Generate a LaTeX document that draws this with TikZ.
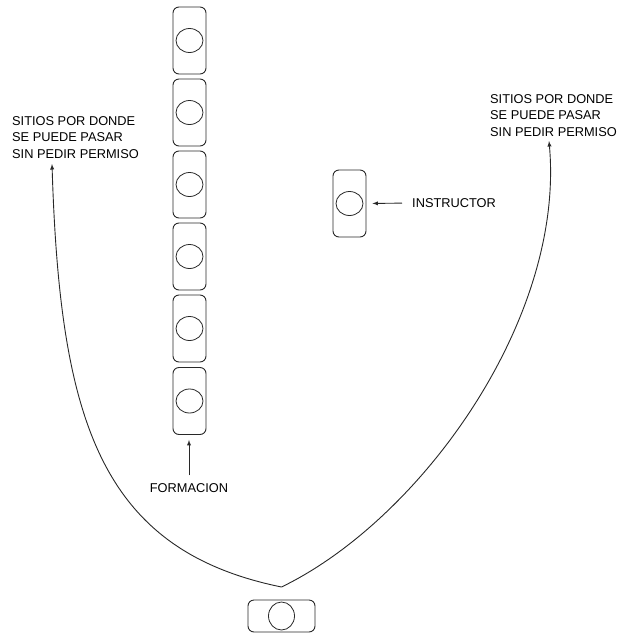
\documentclass[tikz,border=0pt]{standalone}
\usepackage{fontspec}
\setmainfont{Liberation Sans}
\usepackage{tikz}
\usetikzlibrary{arrows}
\definecolor{trazo}{RGB}{40, 40, 40}
\tikzset{
  soldado/.style={draw=trazo, line width=0.9pt, rounded corners=6pt,
                  minimum width=33pt, minimum height=67pt, inner sep=0pt},
  soldadoH/.style={soldado, minimum width=67pt, minimum height=32pt},
  cabeza/.style={draw=trazo, line width=0.8pt},
  rotulo/.style={font=\fontsize{12.8}{16.5}\selectfont, inner sep=0pt, align=left},
  flecha/.style={-latex, draw=trazo, line width=0.9pt}
}
\begin{document}
\begin{tikzpicture}[x=1pt, y=-1pt]
            \useasboundingbox (0,0) rectangle (619,633);
            % formacion
            \node[soldado]  (f1)    at (189.5,  40.5) {};
            \node[soldado]  (f2)    at (189.5, 112.5) {};
            \node[soldado]  (f3)    at (189.5, 184.5) {};
            \node[soldado]  (f4)    at (189.5, 256.5) {};
            \node[soldado]  (f5)    at (189.5, 328.5) {};
            \node[soldado]  (f6)    at (189.5, 401.0) {};
            \node[soldado]  (instr) at (349.5, 203.5) {};
            \node[soldadoH] (nuevo) at (281.5, 616.0) {};
            \draw[cabeza] (f1.center)    ellipse (13.5 and 12);
            \draw[cabeza] (f2.center)    ellipse (13.5 and 12);
            \draw[cabeza] (f3.center)    ellipse (13.5 and 12);
            \draw[cabeza] (f4.center)    ellipse (13.5 and 12);
            \draw[cabeza] (f5.center)    ellipse (13.5 and 12);
            \draw[cabeza] (f6.center)    ellipse (13.5 and 12);
            \draw[cabeza] (instr.center) ellipse (13.5 and 12);
            \draw[cabeza] (nuevo.center) ellipse (13   and 14);
            % rotulos
            \node[rotulo, anchor=north west] (sitiosIzq)  at ( 12, 116) {SITIOS POR DONDE\\SE PUEDE PASAR\\SIN PEDIR PERMISO};
            \node[rotulo, anchor=north west] (sitiosDer)  at (490,  94) {SITIOS POR DONDE\\SE PUEDE PASAR\\SIN PEDIR PERMISO};
            \node[rotulo, anchor=west]       (instructor) at (412, 203) {INSTRUCTOR};
            \node[rotulo]                    (formacion)  at (189, 488) {FORMACION};
            \coordinate (vertice)  at (281.5, 587);
            \coordinate (puntaIzq) at ( 52.0, 164);
            \coordinate (puntaDer) at (549.0, 141);
            % flechas
            \draw[flecha, shorten <=10pt, shorten >=6pt] (instructor.west) -- (instr.east);
            \draw[flecha, shorten <=8pt,  shorten >=5pt] (formacion.north) -- (formacion.north |- f6.south);
            \draw[flecha] (vertice) .. controls (100,550) and ( 60,420) .. (puntaIzq);
            \draw[flecha] (vertice) .. controls (420,520) and (565,320) .. (puntaDer);
        \end{tikzpicture}
\end{document}
